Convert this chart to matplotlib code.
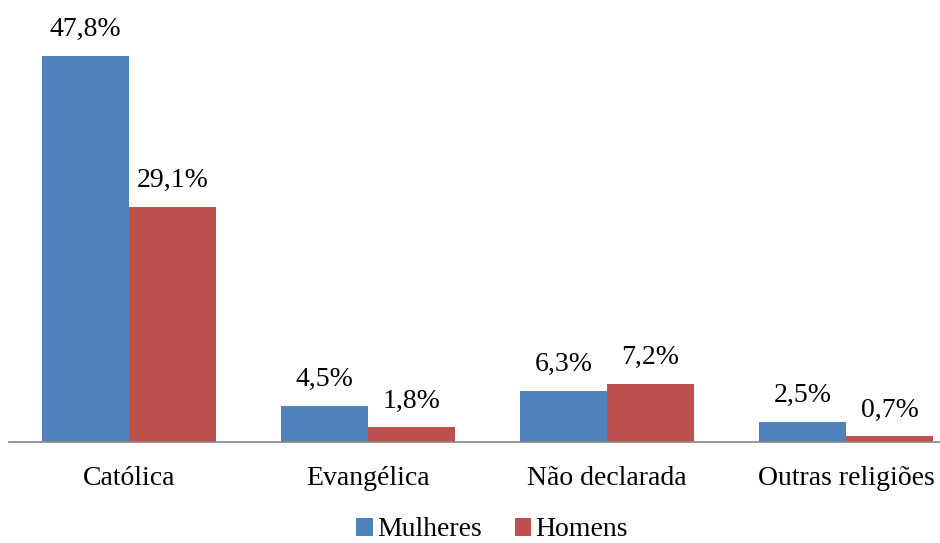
import numpy as np
import matplotlib.pyplot as plt

plt.rcParams['font.family'] = ['Liberation Serif', 'DejaVu Serif']

categorias = ["Católica", "Evangélica", "Não declarada", "Outras religiões"]
mulheres = [47.8, 4.5, 6.3, 2.5]
homens = [29.1, 1.8, 7.2, 0.7]
series = [("Mulheres", mulheres, "#4F81BD"), ("Homens", homens, "#C0504D")]

fig = plt.figure(figsize=(9.4, 5.43), dpi=100)
ax = fig.add_axes([9 / 940, 101 / 543, 931 / 940, 403.5 / 543])

x = np.arange(len(categorias))
largura = 0.364

for i, (nome, valores, cor) in enumerate(series):
    pos = x + (i - 0.5) * largura
    barras = ax.bar(pos, valores, largura, color=cor, label=nome)
    for b, v in zip(barras, valores):
        ax.annotate(f"{v:.1f}%".replace(".", ","),
                    (b.get_x() + b.get_width() / 2, v),
                    xytext=(0, 10), textcoords="offset points",
                    ha="center", va="bottom", fontsize=20)

ax.set_xlim(-0.502, 3.393)
ax.set_ylim(0, 50)
ax.set_xticks(x)
ax.set_xticklabels(categorias, fontsize=20)
ax.tick_params(axis="x", length=0, pad=17)
ax.set_yticks([])
for lado in ["top", "right", "left"]:
    ax.spines[lado].set_visible(False)
ax.spines["bottom"].set_color("#868686")
ax.spines["bottom"].set_linewidth(1.2)

fig.legend(loc="center", bbox_to_anchor=(492 / 940, 1 - 530 / 543), ncol=2,
           frameon=False, fontsize=20, handlelength=0.6, handleheight=0.6,
           handletextpad=0.15, columnspacing=1.2)

fig.savefig("out.png", dpi=100)
